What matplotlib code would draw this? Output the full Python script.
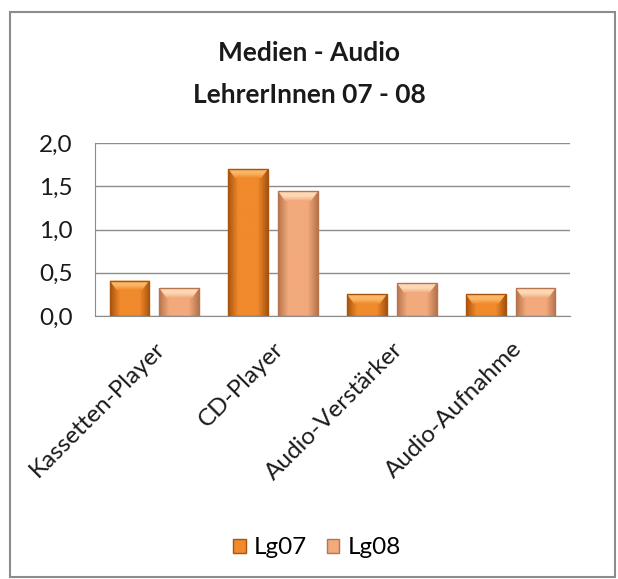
import numpy as np
import matplotlib
matplotlib.use("Agg")
import matplotlib.pyplot as plt
from matplotlib.patches import Rectangle, Polygon
from matplotlib.colors import LinearSegmentedColormap
from matplotlib.ticker import FuncFormatter

plt.rcParams['font.family'] = ['Lato', 'DejaVu Sans']

categories = ["Kassetten-Player", "CD-Player", "Audio-Verstärker", "Audio-Aufnahme"]
series_names = ["Lg07", "Lg08"]
lg07 = [0.41, 1.70, 0.25, 0.25]
lg08 = [0.32, 1.44, 0.38, 0.32]
yticks = [0.0, 0.5, 1.0, 1.5, 2.0]

# (edge, body, highlight) per series
palettes = [
    ("#a9540e", "#f08a2c", "#fbb768"),
    ("#b8744c", "#f2aa7c", "#fdd8b6"),
]

fig = plt.figure(figsize=(6.18, 5.79), dpi=100)
fig.patch.set_facecolor("white")

# outer chart frame
fig.add_artist(Rectangle((10 / 618, 1 - 577 / 579), 605 / 618, 565 / 579,
                         transform=fig.transFigure, fill=False,
                         edgecolor="#8c8c8c", linewidth=1.5))

ax = fig.add_axes([95 / 618, 1 - 316 / 579, 475 / 618, 173 / 579])
ax.set_xlim(-0.5, len(categories) - 0.5)
ax.set_ylim(0, 2.0)

width = 0.335
offset = 0.21
x = np.arange(len(categories))


def draw_bar(xc, h, pal):
    edge, body, hi = pal
    x0 = xc - width / 2
    # horizontal shading across the bar
    cmap = LinearSegmentedColormap.from_list("b", [edge, body, body, body, edge])
    grad = np.linspace(0, 1, 64).reshape(1, -1)
    rect = Rectangle((x0, 0), width, h, facecolor="none", edgecolor="none")
    ax.add_patch(rect)
    im = ax.imshow(grad, cmap=cmap, extent=(x0, x0 + width, 0, h),
                   aspect="auto", origin="lower", zorder=2)
    im.set_clip_path(rect)
    # bevel highlight along the top
    bev = min(0.11, h * 0.45)
    inset = 0.06
    top = Polygon([(x0, h), (x0 + width, h), (x0 + width - inset, h - bev),
                   (x0 + inset, h - bev)], closed=True, facecolor="none",
                  edgecolor="none")
    ax.add_patch(top)
    cmap2 = LinearSegmentedColormap.from_list("t", [body, hi, hi])
    grad2 = np.linspace(0, 1, 32).reshape(-1, 1)
    im2 = ax.imshow(grad2, cmap=cmap2, extent=(x0, x0 + width, h - bev, h),
                    aspect="auto", origin="lower", zorder=2.5)
    im2.set_clip_path(top)
    ax.add_patch(Rectangle((x0, 0), width, h, facecolor="none",
                           edgecolor=edge, linewidth=1.0, zorder=3))


for i in range(len(categories)):
    draw_bar(x[i] - offset, lg07[i], palettes[0])
    draw_bar(x[i] + offset, lg08[i], palettes[1])

ax.set_xlim(-0.5, len(categories) - 0.5)
ax.set_ylim(0, 2.0)

ax.set_yticks(yticks)
ax.yaxis.set_major_formatter(FuncFormatter(lambda v, p: f"{v:.1f}".replace(".", ",")))
ax.grid(axis="y", color="#8c8c8c", linewidth=1.0, zorder=0)
ax.set_axisbelow(True)
for s in ["top", "right"]:
    ax.spines[s].set_visible(False)
ax.spines["left"].set_color("#8c8c8c")
ax.spines["bottom"].set_color("#8c8c8c")
ax.tick_params(axis="y", length=0, labelsize=17.5, pad=16, colors="#1a1a1a")
ax.tick_params(axis="x", length=0, labelsize=17.5, pad=16, colors="#1a1a1a")
ax.set_xticks(x)
ax.set_xticklabels(categories, rotation=45, ha="right", va="top",
                   rotation_mode="anchor")

fig.text(0.5, 1 - 53 / 579, "Medien - Audio", ha="center", va="center",
         fontsize=19, fontweight="bold", color="#1a1a1a")
fig.text(0.5, 1 - 95 / 579, "LehrerInnen 07 - 08", ha="center", va="center",
         fontsize=19, fontweight="bold", color="#1a1a1a")

handles = [Rectangle((0, 0), 1, 1, facecolor=p[1], edgecolor=p[0]) for p in palettes]
fig.legend(handles, series_names, loc="center", bbox_to_anchor=(317 / 618, 1 - 548 / 579),
           ncol=2, frameon=False, fontsize=17.5, handlelength=0.5, handleheight=0.5,
           handletextpad=0.35, columnspacing=0.8)

fig.savefig("out.png", dpi=100, facecolor="white")
